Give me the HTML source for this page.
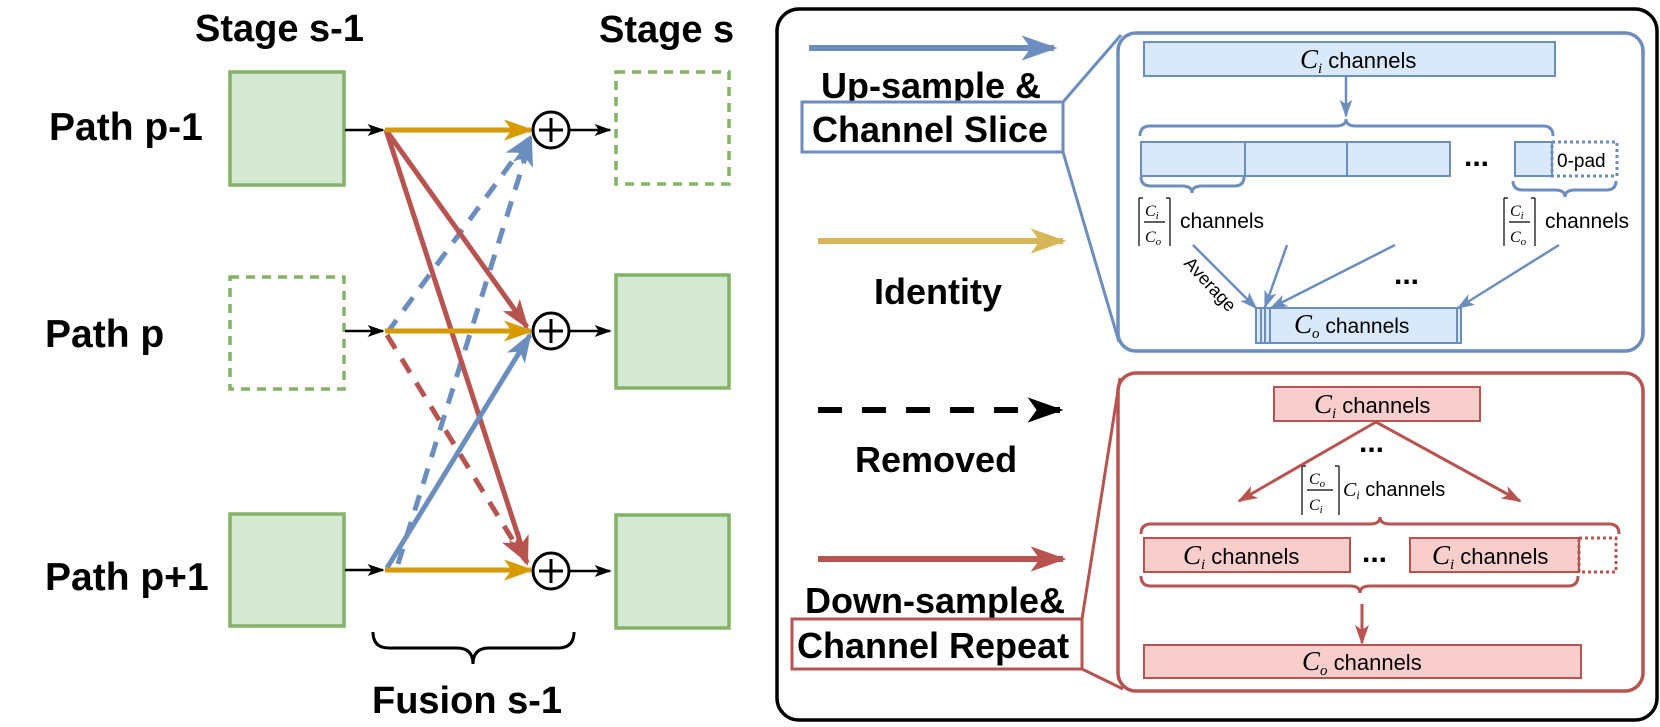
<!DOCTYPE html>
<html><head><meta charset="utf-8"><style>
html,body{margin:0;padding:0;background:#fff;}
svg{display:block;}
.b{font-family:"Liberation Sans",sans-serif;font-weight:bold;fill:#000;}
.r{font-family:"Liberation Sans",sans-serif;fill:#000;}
.m{font-family:"Liberation Serif",serif;font-style:italic;fill:#000;}
</style></head><body>
<svg width="1660" height="727" viewBox="0 0 1660 727" xmlns="http://www.w3.org/2000/svg">
<defs>
<marker id="hk" viewBox="0 0 20 14" refX="18" refY="7" markerWidth="18" markerHeight="12" markerUnits="userSpaceOnUse" orient="auto"><path d="M0,0 L20,7 L0,14 L5,7z" fill="#000"/></marker>
<marker id="ho" viewBox="0 0 20 14" refX="18" refY="7" markerWidth="30" markerHeight="22" markerUnits="userSpaceOnUse" orient="auto"><path d="M0,0 L20,7 L0,14 L5,7z" fill="#d79b00"/></marker>
<marker id="hr" viewBox="0 0 20 14" refX="18" refY="7" markerWidth="30" markerHeight="22" markerUnits="userSpaceOnUse" orient="auto"><path d="M0,0 L20,7 L0,14 L5,7z" fill="#b85450"/></marker>
<marker id="hb" viewBox="0 0 20 14" refX="18" refY="7" markerWidth="30" markerHeight="22" markerUnits="userSpaceOnUse" orient="auto"><path d="M0,0 L20,7 L0,14 L5,7z" fill="#6c8ebf"/></marker>
<marker id="lb" viewBox="0 0 20 14" refX="18" refY="7" markerWidth="36" markerHeight="26" markerUnits="userSpaceOnUse" orient="auto"><path d="M0,0 L20,7 L0,14 L5,7z" fill="#6c8ebf"/></marker>
<marker id="ly" viewBox="0 0 20 14" refX="18" refY="7" markerWidth="36" markerHeight="26" markerUnits="userSpaceOnUse" orient="auto"><path d="M0,0 L20,7 L0,14 L5,7z" fill="#d6b656"/></marker>
<marker id="lk" viewBox="0 0 20 14" refX="18" refY="7" markerWidth="36" markerHeight="26" markerUnits="userSpaceOnUse" orient="auto"><path d="M0,0 L20,7 L0,14 L5,7z" fill="#000"/></marker>
<marker id="lr" viewBox="0 0 20 14" refX="18" refY="7" markerWidth="36" markerHeight="26" markerUnits="userSpaceOnUse" orient="auto"><path d="M0,0 L20,7 L0,14 L5,7z" fill="#b85450"/></marker>
<marker id="sb" viewBox="0 0 20 14" refX="18" refY="7" markerWidth="18" markerHeight="14" markerUnits="userSpaceOnUse" orient="auto"><path d="M0,0 L20,7 L0,14 L5,7z" fill="#6c8ebf"/></marker>
<marker id="sr" viewBox="0 0 20 14" refX="18" refY="7" markerWidth="20" markerHeight="15" markerUnits="userSpaceOnUse" orient="auto"><path d="M0,0 L20,7 L0,14 L5,7z" fill="#b85450"/></marker>
</defs>

<text class="b" x="195" y="41" font-size="38">Stage s-1</text>
<text class="b" x="599" y="42" font-size="38">Stage s</text>
<text class="b" x="49" y="140" font-size="39">Path p-1</text>
<text class="b" x="45" y="347" font-size="39">Path p</text>
<text class="b" x="45" y="590" font-size="39">Path p+1</text>

<g stroke="#82b366" stroke-width="3.5" fill="#d5e8d4">
<rect x="230" y="72" width="114" height="113"/>
<rect x="230" y="514" width="114" height="112"/>
<rect x="616" y="275" width="113" height="113"/>
<rect x="616" y="515" width="113" height="113"/>
<rect x="230" y="277" width="114" height="112" fill="none" stroke-dasharray="9,7"/>
<rect x="616" y="72" width="113" height="112" fill="none" stroke-dasharray="9,7"/>
</g>

<g stroke="#000" stroke-width="2.5" fill="none">
<line x1="345" y1="130" x2="383" y2="130" marker-end="url(#hk)"/>
<line x1="345" y1="331" x2="383" y2="331" marker-end="url(#hk)"/>
<line x1="345" y1="570" x2="383" y2="570" marker-end="url(#hk)"/>
<line x1="570" y1="130" x2="610" y2="130" marker-end="url(#hk)"/>
<line x1="570" y1="331" x2="610" y2="331" marker-end="url(#hk)"/>
<line x1="570" y1="571" x2="610" y2="571" marker-end="url(#hk)"/>
</g>

<g stroke-width="5" fill="none">
<line x1="387" y1="333" x2="530" y2="137" stroke="#6c8ebf" stroke-dasharray="16,12" marker-end="url(#hb)"/>
<line x1="398" y1="564" x2="531" y2="139" stroke="#6c8ebf" stroke-dasharray="16,12" marker-end="url(#hb)"/>
<line x1="387" y1="335" x2="525" y2="560" stroke="#b85450" stroke-dasharray="16,12" marker-end="url(#hr)"/>
<line x1="386" y1="130" x2="527" y2="327" stroke="#b85450" marker-end="url(#hr)"/>
<line x1="386" y1="130" x2="527" y2="563" stroke="#b85450" marker-end="url(#hr)"/>
<line x1="387" y1="568" x2="530" y2="335" stroke="#6c8ebf" marker-end="url(#hb)"/>
<line x1="385" y1="130" x2="531" y2="130" stroke="#d79b00" marker-end="url(#ho)"/>
<line x1="385" y1="331" x2="531" y2="331" stroke="#d79b00" marker-end="url(#ho)"/>
<line x1="385" y1="570" x2="531" y2="570" stroke="#d79b00" marker-end="url(#ho)"/>
</g>

<g stroke="#000" stroke-width="3" fill="#fff">
<circle cx="551" cy="130" r="18"/>
<circle cx="551" cy="331" r="18"/>
<circle cx="551" cy="571" r="18"/>
</g>
<g stroke="#000" stroke-width="3">
<line x1="539" y1="130" x2="563" y2="130"/><line x1="551" y1="118" x2="551" y2="142"/>
<line x1="539" y1="331" x2="563" y2="331"/><line x1="551" y1="319" x2="551" y2="343"/>
<line x1="539" y1="571" x2="563" y2="571"/><line x1="551" y1="559" x2="551" y2="583"/>
</g>

<path d="M373,632 Q373,648 389,648 L457,648 Q473,648 473,664 Q473,648 489,648 L558,648 Q574,648 574,632" fill="none" stroke="#000" stroke-width="3"/>
<text class="b" x="372" y="713" font-size="38">Fusion s-1</text>

<rect x="777" y="9" width="880" height="711" rx="22" fill="none" stroke="#000" stroke-width="3.5"/>

<line x1="809" y1="48" x2="1054" y2="48" stroke="#6c8ebf" stroke-width="6" marker-end="url(#lb)"/>
<text class="b" x="821" y="98" font-size="36">Up-sample &amp;</text>
<rect x="802" y="102" width="261" height="50" fill="#fff" stroke="#6c8ebf" stroke-width="3"/>
<text class="b" x="812" y="142" font-size="36">Channel Slice</text>

<line x1="818" y1="241" x2="1063" y2="241" stroke="#d6b656" stroke-width="6" marker-end="url(#ly)"/>
<text class="b" x="874" y="304" font-size="36">Identity</text>

<line x1="818" y1="410" x2="1060" y2="410" stroke="#000" stroke-width="6" stroke-dasharray="24,20" marker-end="url(#lk)"/>
<text class="b" x="855" y="472" font-size="36">Removed</text>

<line x1="818" y1="559" x2="1063" y2="559" stroke="#b85450" stroke-width="6" marker-end="url(#lr)"/>
<text class="b" x="805" y="613" font-size="36">Down-sample&amp;</text>
<rect x="792" y="619" width="290" height="50" fill="#fff" stroke="#b85450" stroke-width="3"/>
<text class="b" x="797" y="658" font-size="36">Channel Repeat</text>

<line x1="1063" y1="102" x2="1121" y2="35" stroke="#6c8ebf" stroke-width="3"/>
<line x1="1063" y1="152" x2="1119" y2="342" stroke="#6c8ebf" stroke-width="3"/>
<rect x="1118" y="33" width="525" height="318" rx="18" fill="none" stroke="#6c8ebf" stroke-width="3.5"/>

<g fill="#dae8fc" stroke="#6c8ebf" stroke-width="2">
<rect x="1144" y="42" width="411" height="34"/>
<rect x="1141" y="142" width="309" height="34"/>
<line x1="1245" y1="142" x2="1245" y2="176"/>
<line x1="1347" y1="142" x2="1347" y2="176"/>
<rect x="1515" y="142" width="37" height="34"/>
<rect x="1256" y="308" width="205" height="35"/>
<line x1="1261" y1="308" x2="1261" y2="343"/>
<line x1="1265" y1="308" x2="1265" y2="343"/>
<line x1="1270" y1="308" x2="1270" y2="343"/>
<line x1="1457" y1="308" x2="1457" y2="343"/>
</g>
<rect x="1552" y="142" width="65" height="34" fill="none" stroke="#6c8ebf" stroke-width="3" stroke-dasharray="3,3"/>
<text class="r" x="1557" y="167" font-size="19">0-pad</text>

<text x="1300" y="68" font-size="22"><tspan class="m" font-size="27">C</tspan><tspan class="m" font-size="15" dy="5">i</tspan><tspan class="r" dy="-5"> channels</tspan></text>
<line x1="1346" y1="76" x2="1346" y2="116" stroke="#6c8ebf" stroke-width="2.5" marker-end="url(#sb)"/>
<path d="M1140,136 Q1140,126 1150,126 L1336,126 Q1346,126 1346,119 Q1346,126 1356,126 L1543,126 Q1553,126 1553,136" fill="none" stroke="#6c8ebf" stroke-width="3"/>
<text class="b" x="1464" y="166" font-size="30">...</text>
<path d="M1141,177 Q1141,186 1151,186 L1182,186 Q1192,186 1192,193 Q1192,186 1202,186 L1234,186 Q1244,186 1244,177" fill="none" stroke="#6c8ebf" stroke-width="3"/>
<path d="M1513,181 Q1513,190 1523,190 L1555,190 Q1565,190 1565,197 Q1565,190 1575,190 L1606,190 Q1616,190 1616,181" fill="none" stroke="#6c8ebf" stroke-width="3"/>

<g stroke="#000" stroke-width="1.2" fill="none">
<path d="M1139,198 V246 M1139,198 H1143 M1170,198 V246 M1170,198 H1166"/>
<line x1="1144" y1="222" x2="1165" y2="222"/>
<path d="M1504,198 V246 M1504,198 H1508 M1535,198 V246 M1535,198 H1531"/>
<line x1="1509" y1="222" x2="1530" y2="222"/>
<path d="M1302,466 V515 M1302,466 H1306 M1339,466 V515 M1339,466 H1335"/>
<line x1="1307" y1="490" x2="1333" y2="490"/>
</g>
<text x="1145" y="216" font-size="16"><tspan class="m">C</tspan><tspan class="m" font-size="11" dy="3">i</tspan></text>
<text x="1145" y="242" font-size="16"><tspan class="m">C</tspan><tspan class="m" font-size="11" dy="3">o</tspan></text>
<text class="r" x="1180" y="228" font-size="21">channels</text>
<text x="1510" y="216" font-size="16"><tspan class="m">C</tspan><tspan class="m" font-size="11" dy="3">i</tspan></text>
<text x="1510" y="242" font-size="16"><tspan class="m">C</tspan><tspan class="m" font-size="11" dy="3">o</tspan></text>
<text class="r" x="1545" y="228" font-size="21">channels</text>

<g stroke="#6c8ebf" stroke-width="2.5" fill="none">
<line x1="1193" y1="245" x2="1256" y2="308" marker-end="url(#sb)"/>
<line x1="1287" y1="245" x2="1265" y2="307" marker-end="url(#sb)"/>
<line x1="1395" y1="245" x2="1271" y2="308" marker-end="url(#sb)"/>
<line x1="1559" y1="245" x2="1458" y2="308" marker-end="url(#sb)"/>
</g>
<text class="r" font-size="18" transform="translate(1183,264) rotate(47)">Average</text>
<text class="b" x="1394" y="284" font-size="30">...</text>
<text x="1294" y="333" font-size="21"><tspan class="m" font-size="27">C</tspan><tspan class="m" font-size="15" dy="5">o</tspan><tspan class="r" dy="-5"> channels</tspan></text>

<line x1="1082" y1="619" x2="1120" y2="378" stroke="#b85450" stroke-width="3"/>
<line x1="1082" y1="669" x2="1123" y2="689" stroke="#b85450" stroke-width="3"/>
<rect x="1118" y="373" width="525" height="318" rx="18" fill="none" stroke="#b85450" stroke-width="3.5"/>

<g fill="#f8cecc" stroke="#b85450" stroke-width="2">
<rect x="1274" y="387" width="206" height="34"/>
<rect x="1144" y="538" width="206" height="34"/>
<rect x="1410" y="538" width="169" height="34"/>
<rect x="1144" y="645" width="437" height="33"/>
</g>
<rect x="1579" y="538" width="37" height="34" fill="none" stroke="#b85450" stroke-width="3" stroke-dasharray="3,3"/>
<text x="1314" y="413" font-size="22"><tspan class="m" font-size="27">C</tspan><tspan class="m" font-size="15" dy="5">i</tspan><tspan class="r" dy="-5"> channels</tspan></text>
<g stroke="#b85450" stroke-width="3" fill="none">
<line x1="1376" y1="422" x2="1239" y2="501" marker-end="url(#sr)"/>
<line x1="1376" y1="422" x2="1520" y2="501" marker-end="url(#sr)"/>
</g>
<text class="b" x="1359" y="452" font-size="30">...</text>
<text x="1309" y="484" font-size="16"><tspan class="m">C</tspan><tspan class="m" font-size="11" dy="3">o</tspan></text>
<text x="1309" y="510" font-size="16"><tspan class="m">C</tspan><tspan class="m" font-size="11" dy="3">i</tspan></text>
<text x="1343" y="496" font-size="20"><tspan class="m">C</tspan><tspan class="m" font-size="12" dy="3">i</tspan><tspan class="r" dy="-3"> channels</tspan></text>

<path d="M1141,534 Q1141,524 1151,524 L1370,524 Q1380,524 1380,517 Q1380,524 1390,524 L1609,524 Q1619,524 1619,534" fill="none" stroke="#b85450" stroke-width="3"/>
<text x="1183" y="564" font-size="22"><tspan class="m" font-size="27">C</tspan><tspan class="m" font-size="15" dy="5">i</tspan><tspan class="r" dy="-5"> channels</tspan></text>
<text class="b" x="1362" y="562" font-size="30">...</text>
<text x="1432" y="564" font-size="22"><tspan class="m" font-size="27">C</tspan><tspan class="m" font-size="15" dy="5">i</tspan><tspan class="r" dy="-5"> channels</tspan></text>
<path d="M1141,576 Q1141,586 1151,586 L1350,586 Q1360,586 1360,593 Q1360,586 1370,586 L1568,586 Q1578,586 1578,576" fill="none" stroke="#b85450" stroke-width="3"/>
<line x1="1362" y1="604" x2="1362" y2="643" stroke="#b85450" stroke-width="3" marker-end="url(#sr)"/>
<text x="1302" y="670" font-size="22"><tspan class="m" font-size="27">C</tspan><tspan class="m" font-size="15" dy="5">o</tspan><tspan class="r" dy="-5"> channels</tspan></text>
</svg>
</body></html>
